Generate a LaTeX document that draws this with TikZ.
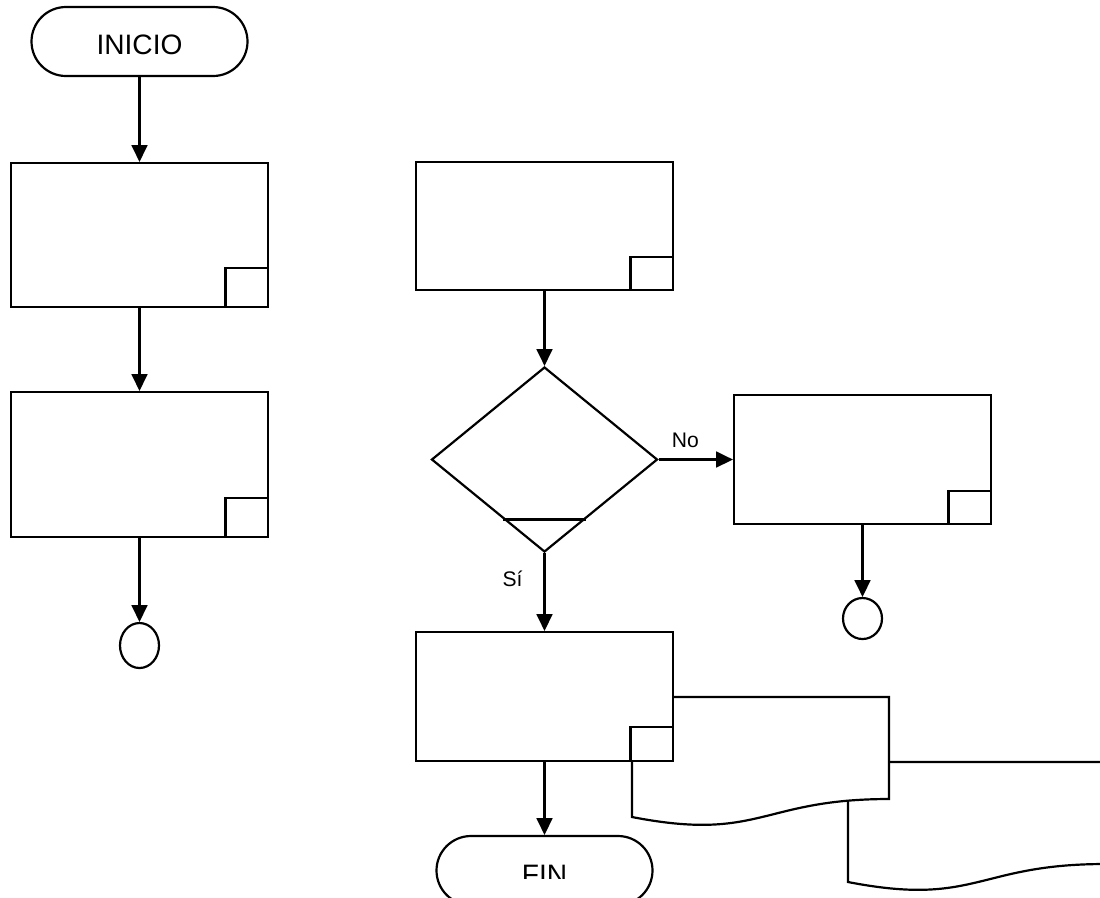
\documentclass[tikz,border=0pt]{standalone}
\usepackage{fontspec}
\setmainfont{Liberation Sans}
\usetikzlibrary{arrows.meta,positioning,shapes.geometric,calc}
\tikzset{
  chart/.style={x=1cm,y=1cm,line width=1.25pt,>={Triangle[length=9.5pt,width=9pt]}},
  proc/.style={draw,fill=white,inner sep=0pt,minimum width=5.14cm},
  tab/.style={draw,fill=white,inner sep=0pt,minimum width=0.85cm},
  term/.style={draw,fill=white,rounded corners=0.69cm,minimum width=4.32cm,minimum height=1.38cm,
    font=\fontsize{16}{19}\selectfont,text height=0.54cm},
  termtext/.style={font=\fontsize{16}{19}\selectfont,text height=0.54cm},
  decision/.style={draw,fill=white,diamond,inner sep=0pt,minimum width=4.52cm,minimum height=3.70cm},
  connector/.style={draw,fill=white,ellipse,inner sep=0pt,minimum width=0.78cm},
  lbl/.style={font=\fontsize{12}{14}\selectfont},
  flow/.style={->},
  docline/.style={draw,fill=white},
}
\begin{document}
\begin{tikzpicture}[chart]
\useasboundingbox (0,0) rectangle (22,-17.94);
\clip (0,0) rectangle (22,-17.94);
% left column
\node[term] (ini) at (2.79,-0.83) {INICIO};
\node[proc,minimum height=2.88cm] (b1) at (2.79,-4.70) {};
\node[proc,minimum height=2.90cm] (b2) at (2.79,-9.29) {};
\node[connector,minimum height=0.90cm] (c1) at (2.79,-12.91) {};
% right column
\node[proc,minimum height=2.56cm] (b3) at (10.89,-4.52) {};
\node[decision] (dec) at (10.89,-9.19) {};
\node[proc,minimum height=2.58cm] (b4) at (17.25,-9.19) {};
\node[connector,minimum height=0.82cm] (c2) at (17.25,-12.37) {};
% documents behind the last box
\foreach \dx/\dy in {4.32/-1.30,0/0} {
  \begin{scope}[shift={(12.64+\dx,-13.94+\dy)}]
    \draw[docline] (0,0) -- (5.14,0) -- (5.14,-2.04)
      .. controls (2.57,-2.04) and (2.57,-2.90) .. (0,-2.40) -- cycle;
  \end{scope}
}
\node[proc,minimum height=2.58cm] (b5) at (10.89,-13.93) {};
\node[term] (fin) at (10.89,-17.41) {};
% end label, cut at its lower edge
\begin{scope}
  \clip (0,0) rectangle (22,-17.56);
  \node[termtext] (fintext) at (fin) {FIN};
\end{scope}
% corner tabs
\foreach \b/\h in {b1/0.78,b2/0.78,b3/0.66,b4/0.66,b5/0.68}
  \node[tab,minimum height=\h cm,anchor=south east] (\b-tab) at (\b.south east) {};
\draw ($(dec.south)!0.36!(dec.west)$) -- ($(dec.south)!0.36!(dec.east)$);
% connectors
\draw[flow] (ini) -- (b1);
\draw[flow] (b1) -- (b2);
\draw[flow] (b2) -- (c1);
\draw[flow] (b3) -- (dec);
\draw[flow] (dec) -- node[lbl,above=3pt,pos=0.36] (no) {No} (b4);
\draw[flow] (dec) -- node[lbl,left=0.3cm,pos=0.33] (si) {Sí} (b5);
\draw[flow] (b4) -- (c2);
\draw[flow] (b5) -- (fin);
\end{tikzpicture}
\end{document}
